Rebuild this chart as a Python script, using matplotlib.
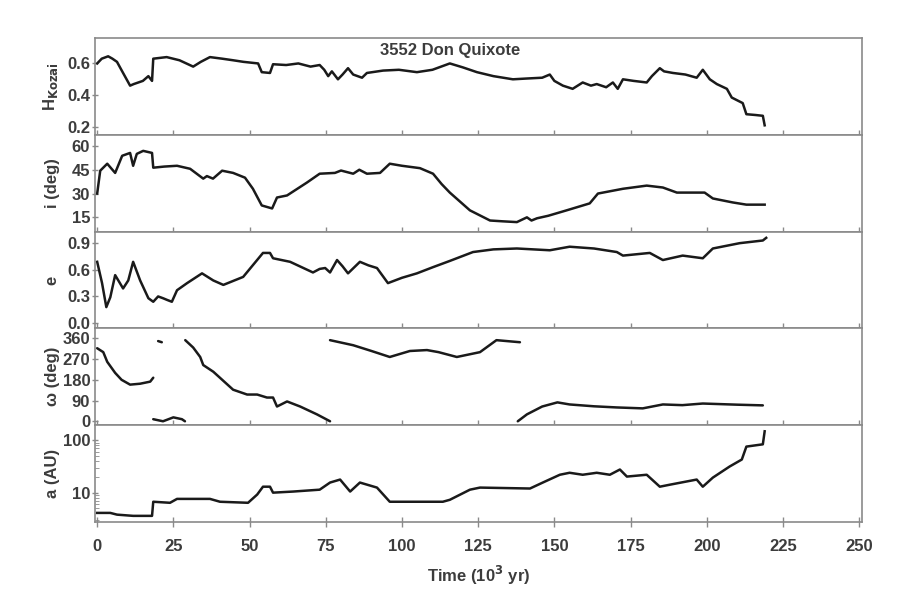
import numpy as np
import matplotlib
matplotlib.use("Agg")
import matplotlib.pyplot as plt
from matplotlib.ticker import FixedLocator, NullFormatter, FuncFormatter

plt.rcParams["font.family"] = ["Liberation Sans", "DejaVu Sans"]
plt.rcParams["font.weight"] = "bold"
plt.rcParams["axes.labelweight"] = "bold"
plt.rcParams["mathtext.default"] = "bf"

# ---- data (time in 10^3 yr) ----
t_h = [0, 1.5, 3.6, 5, 6.5, 8.5, 10.8, 12, 13.5, 15, 16.8, 18, 18.4, 22.8, 27, 31.5, 34, 37, 41, 44.6,
       48, 52.8, 54, 56.7, 57.7, 62, 66, 70, 73, 74.5, 75.8, 77, 79, 80.5, 82.3, 84, 86.9, 88.5, 93.8,
       99, 104.9, 110, 115.7, 120, 124.6, 130, 136.4, 141, 146, 148.5, 150, 152.8, 156, 159.3, 162,
       163.9, 167, 169.2, 170.8, 172.5, 176, 180.3, 182, 184.6, 186, 188.9, 193, 196.7, 198.7, 201,
       203.3, 206.6, 208.2, 211.8, 213, 216, 218.4, 219]
h_val = [0.60, 0.63, 0.645, 0.63, 0.61, 0.54, 0.46, 0.47, 0.48, 0.49, 0.52, 0.49, 0.63, 0.64, 0.62, 0.58,
         0.61, 0.64, 0.63, 0.62, 0.61, 0.60, 0.545, 0.54, 0.595, 0.59, 0.60, 0.58, 0.59, 0.56, 0.52, 0.55,
         0.50, 0.53, 0.57, 0.53, 0.51, 0.54, 0.555, 0.56, 0.545, 0.56, 0.60, 0.575, 0.545, 0.52, 0.50,
         0.505, 0.51, 0.53, 0.49, 0.46, 0.44, 0.48, 0.46, 0.47, 0.45, 0.48, 0.44, 0.50, 0.49, 0.48, 0.52,
         0.57, 0.55, 0.54, 0.53, 0.51, 0.56, 0.50, 0.47, 0.44, 0.385, 0.35, 0.28, 0.275, 0.27, 0.21]

t_i = [0, 1, 3.3, 5.9, 8.2, 10.8, 11.8, 13, 15.1, 18, 18.4, 22, 26.2, 30.5, 34.8, 36, 38, 41, 44.6, 48.5,
       51.1, 54, 57.4, 59, 62.3, 68.8, 73, 78, 80, 84, 86, 88.5, 92.8, 96, 100, 105.9, 110.2, 113, 115.7,
       122.3, 128.9, 133, 137.7, 141, 142.5, 144.3, 148, 154, 161.6, 164.3, 172.5, 180.3, 185.6, 190.2,
       199.3, 202, 208.5, 213, 219]
i_val = [30, 44.4, 48.8, 43, 53.8, 55.6, 47.5, 55, 56.9, 55.6, 46.3, 47, 47.5, 45.6, 39.4, 41, 39.4, 44.4,
         43, 40, 33, 22.5, 20.6, 27.5, 28.8, 36.9, 42.5, 43, 44.5, 42.5, 45, 42.5, 43, 48.8, 47.5, 46, 42.5,
         36, 30.6, 19.4, 13, 12.5, 12, 15, 13, 14.4, 16, 19.4, 23.8, 30, 33, 35, 33.8, 30.6, 30.6, 26.9,
         24.4, 23, 23]

t_e = [0, 1.6, 3, 4.3, 5.9, 8.5, 10.2, 11.8, 14.1, 16.8, 18.4, 20, 21.6, 23, 24.5, 26.2, 29.5, 34.4,
       38.1, 41.4, 47.9, 54.4, 56.7, 57.7, 63.3, 70.8, 73, 74.8, 76.4, 78.7, 80.5, 82.3, 86.2, 89, 91.8,
       95.4, 100, 104.9, 110.2, 115.7, 123.3, 130, 137.7, 148.5, 155, 163, 170.5, 172.5, 181.3, 185.6,
       192.1, 198.7, 202, 210.8, 218.4, 219.5]
e_val = [0.69, 0.45, 0.18, 0.29, 0.54, 0.39, 0.48, 0.69, 0.48, 0.28, 0.24, 0.30, 0.28, 0.26, 0.24, 0.37,
         0.45, 0.56, 0.48, 0.43, 0.52, 0.79, 0.79, 0.73, 0.69, 0.57, 0.61, 0.62, 0.57, 0.71, 0.64, 0.56,
         0.69, 0.65, 0.62, 0.45, 0.51, 0.56, 0.63, 0.70, 0.80, 0.83, 0.84, 0.82, 0.86, 0.84, 0.80, 0.76,
         0.79, 0.71, 0.76, 0.73, 0.84, 0.90, 0.93, 0.96]

# argument of perihelion comes in separate branches (wraps at 0/360)
t_w1 = [0, 2, 3.3, 5.9, 8, 10.8, 14.1, 17.4, 18.4]
w1 = [317, 300, 258, 210, 180, 159, 163, 172, 189]
t_w2 = [20.0, 21.2]
w2 = [348, 343]
t_w3 = [18.4, 21.6, 25, 27.8, 28.8]
w3 = [9, 0, 17, 9, 0]
t_w4 = [28.9, 31.5, 33.8, 34.8, 38.1, 44.6, 49.2, 52.5, 55.7, 57.7, 59, 62.3, 66.6, 72.1, 76.4]
w4 = [352, 320, 279, 244, 215, 137, 116, 116, 103, 103, 64, 86, 64, 30, 0]
t_w5 = [76.4, 84, 90, 96, 102.6, 108.2, 112, 118, 125.6, 131, 138.7]
w5 = [352, 330, 305, 279, 305, 309, 300, 279, 300, 352, 343]
t_w6 = [138, 141, 146, 151, 155, 163, 170.5, 179, 185.6, 192, 198.7, 210, 218.4]
w6 = [0, 30, 64, 82, 73, 65, 60, 56, 73, 70, 77, 72, 69]

t_a = [0, 4.3, 6.5, 11.8, 18, 18.4, 23.9, 26.2, 37, 40.3, 49.5, 52.5, 54.4, 56.7, 57.7, 64.3, 73, 76.4,
       79.7, 83, 86.2, 91.8, 96, 113.4, 115.7, 122.3, 125.6, 142, 146.2, 151.8, 155, 159.3, 163.9,
       168.2, 171.5, 173.8, 180.3, 184.6, 187.9, 196.7, 198.7, 202, 207.5, 211.5, 213, 218.4, 219]
a_val = [4.1, 4.1, 3.8, 3.6, 3.6, 6.7, 6.4, 7.6, 7.6, 6.7, 6.4, 9.2, 13, 13, 10, 10.5, 11.4, 15.6, 17.8,
         10.5, 15.6, 12.5, 6.7, 6.7, 7.3, 11.4, 12.5, 12.0, 15.6, 22, 24, 22, 24, 22, 27.7, 20.3, 22, 13,
         14.2, 17.8, 13, 19.4, 31.6, 43, 76, 84, 149]

title = "3552 Don Quixote"
ylabels = [r"H$_{\mathrm{Kozai}}$", "i (deg)", "e", "\u03c9 (deg)", "a (AU)"]
x_ticks = [0, 25, 50, 75, 100, 125, 150, 175, 200, 225, 250]


def main():
    fig = plt.figure(figsize=(9, 6.04), dpi=100)
    gs = fig.add_gridspec(5, 1, left=0.1056, right=0.958, top=0.937, bottom=0.1358, hspace=0)
    axes = [fig.add_subplot(gs[k]) for k in range(5)]
    lc = "#1a1a1a"; lw = 1.8
    txt = "#3c3c3c"

    axes[0].plot(t_h, h_val, color=lc, lw=lw)
    axes[1].plot(t_i, i_val, color=lc, lw=lw)
    axes[2].plot(t_e, e_val, color=lc, lw=lw)
    for tw, wv in [(t_w1, w1), (t_w2, w2), (t_w3, w3), (t_w4, w4), (t_w5, w5), (t_w6, w6)]:
        axes[3].plot(tw, wv, color=lc, lw=lw, solid_capstyle="round")
    axes[4].plot(t_a, a_val, color=lc, lw=lw)

    axes[0].set_ylim(0.15, 0.76); axes[0].set_yticks([0.2, 0.4, 0.6])
    axes[1].set_ylim(6, 67); axes[1].set_yticks([15, 30, 45, 60])
    axes[2].set_ylim(-0.06, 1.03); axes[2].set_yticks([0.0, 0.3, 0.6, 0.9])
    axes[3].set_ylim(-17, 403); axes[3].set_yticks([0, 90, 180, 270, 360])
    axes[4].set_yscale("log"); axes[4].set_ylim(2.75, 195)
    axes[4].yaxis.set_major_locator(FixedLocator([10, 100]))
    axes[4].yaxis.set_major_formatter(FuncFormatter(lambda v, p: f"{v:g}"))
    axes[4].yaxis.set_minor_formatter(NullFormatter())

    for k, ax in enumerate(axes):
        ax.set_xlim(-0.7, 251)
        ax.set_xticks(x_ticks)
        for s in ax.spines.values():
            s.set_color("#8a8a8a"); s.set_linewidth(1.2)
        ax.tick_params(axis="x", direction="inout", length=7, width=1, color="#8a8a8a")
        ax.tick_params(axis="y", direction="inout", length=5, width=1, color="#8a8a8a",
                       labelsize=12, pad=1, labelcolor=txt)
        ax.tick_params(axis="y", which="minor", direction="in", length=3, color="#8a8a8a")
        ax.set_ylabel(ylabels[k], fontsize=12, color=txt, labelpad=2, fontweight="bold")
        if k < 4:
            ax.tick_params(axis="x", labelbottom=False)
    axes[4].tick_params(axis="x", labelsize=12, labelcolor=txt, pad=9)
    axes[4].set_xlabel("Time (10$^3$ yr)", fontsize=12, color=txt, labelpad=7, fontweight="bold")
    fig.align_ylabels(axes)

    axes[0].text(0.463, 0.875, title, transform=axes[0].transAxes, ha="center", va="center",
                 fontsize=12, color=txt, fontweight="bold")

    plt.savefig("out.png", dpi=100)
    plt.close()


if __name__ == "__main__":
    main()
